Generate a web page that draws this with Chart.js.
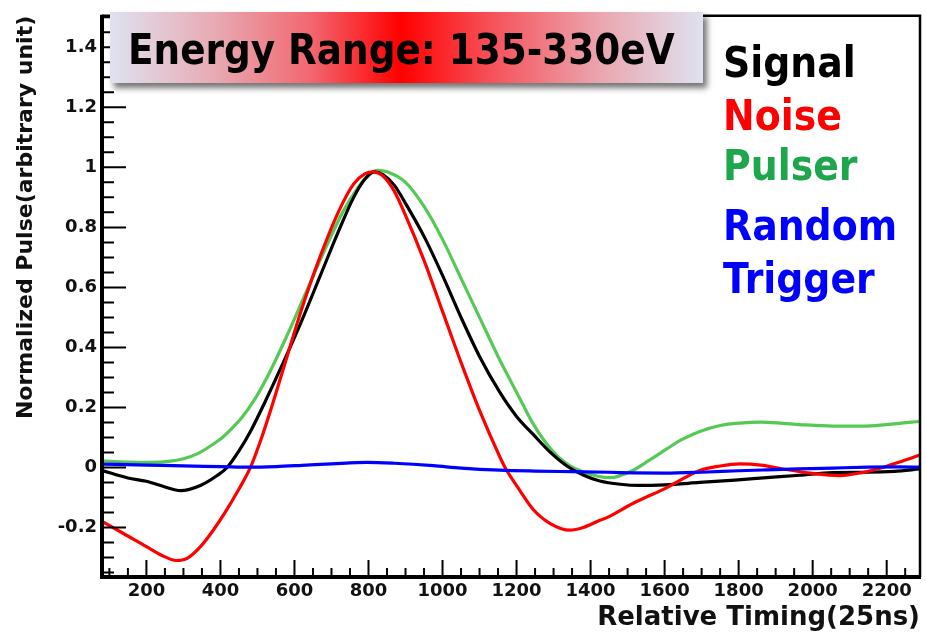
<!DOCTYPE html>
<html>
<head>
<meta charset="utf-8">
<script src="https://cdn.jsdelivr.net/npm/chart.js@4.4.1/dist/chart.umd.min.js"></script>
<style>
html,body{margin:0;padding:0;background:#fff;}
#wrap{width:926px;height:637px;position:relative;}
</style>
</head>
<body>
<div id="wrap"><canvas id="c" width="926" height="637"></canvas></div>
<script>
// ---------- data ----------
const xTickValues = [200,400,600,800,1000,1200,1400,1600,1800,2000,2200];
const yTickValues = [-0.2,0,0.2,0.4,0.6,0.8,1.0,1.2,1.4];

const seriesNames = ["Signal","Noise","Pulser","Random","Trigger"];
const titleText = "Energy Range: 135-330eV";
const xTitle = "Relative Timing(25ns)";
const yTitle = "Normalized Pulse(arbitrary unit)";

const signalTiming = [80,150,200,250,292,346,391,418,450,481,521,570,620,670,720,760,790,815,840,870,900,950,1000,1050,1100,1155,1200,1245,1290,1336,1380,1425,1480,1533,1600,1695,1790,1876,1965,2054,2150,2220,2290];
const signalPulse  = [-0.010,-0.035,-0.046,-0.065,-0.077,-0.060,-0.027,0.000,0.055,0.120,0.220,0.350,0.490,0.640,0.790,0.900,0.960,0.985,0.975,0.940,0.880,0.770,0.640,0.500,0.370,0.250,0.170,0.110,0.052,0.005,-0.025,-0.045,-0.056,-0.060,-0.058,-0.050,-0.042,-0.034,-0.026,-0.017,-0.016,-0.013,-0.005];

const noiseTiming = [80,138,200,250,280,310,346,380,413,450,481,510,543,580,620,670,720,760,790,812,840,870,900,950,1000,1050,1100,1155,1169,1209,1245,1290,1344,1380,1425,1444,1514,1606,1695,1750,1803,1860,1919,2000,2073,2130,2189,2240,2291];
const noisePulse  = [-0.180,-0.220,-0.264,-0.298,-0.310,-0.303,-0.264,-0.210,-0.149,-0.072,0.000,0.095,0.220,0.370,0.530,0.705,0.855,0.945,0.978,0.985,0.970,0.920,0.840,0.690,0.520,0.350,0.190,0.035,0.000,-0.077,-0.140,-0.186,-0.209,-0.200,-0.176,-0.167,-0.120,-0.067,-0.010,0.005,0.012,0.008,-0.005,-0.020,-0.027,-0.018,0.000,0.020,0.042];

const pulserTiming = [80,150,211,260,300,340,381,410,435,460,489,530,580,630,680,730,770,800,825,850,900,950,1000,1050,1100,1150,1185,1215,1245,1290,1336,1380,1452,1514,1560,1606,1650,1695,1750,1803,1860,1920,1965,2054,2146,2220,2291];
const pulserPulse  = [0.022,0.018,0.017,0.020,0.029,0.047,0.078,0.105,0.135,0.170,0.220,0.310,0.440,0.580,0.720,0.850,0.930,0.975,0.990,0.985,0.950,0.870,0.760,0.630,0.500,0.370,0.286,0.215,0.145,0.065,0.012,-0.015,-0.034,-0.010,0.025,0.062,0.095,0.120,0.140,0.148,0.151,0.147,0.143,0.138,0.138,0.145,0.154];

const randomTiming = [80,200,300,400,480,550,620,700,796,870,975,1050,1155,1250,1350,1450,1514,1600,1700,1800,1876,1960,2054,2150,2235,2290];
const randomPulse  = [0.011,0.008,0.005,0.003,0.001,0.003,0.007,0.012,0.017,0.014,0.006,-0.002,-0.009,-0.012,-0.014,-0.016,-0.018,-0.019,-0.016,-0.011,-0.008,-0.005,-0.002,0.001,0.002,0.001];

// ---------- helpers ----------
const pts = (xs, ys) => xs.map((x, i) => ({x: x, y: ys[i]}));
const FONT = "'DejaVu Sans', 'Liberation Sans', sans-serif";

function lineSet(label, xs, ys, color) {
  return {
    label: label, data: pts(xs, ys), borderColor: color, backgroundColor: color,
    borderWidth: 3.2, pointRadius: 0, fill: false, cubicInterpolationMode: 'monotone'
  };
}

function squeezedText(ctx, text, x, y, sx) {
  ctx.save();
  ctx.translate(x, y);
  ctx.scale(sx, 1);
  ctx.fillText(text, 0, 0);
  ctx.restore();
}

// frame + inward ROOT-style ticks, title box, coloured legend words
const framePlugin = {
  id: 'frame',
  afterDatasetsDraw(chart) {
    const {ctx, chartArea: {left, right, top, bottom}, scales: {x, y}} = chart;
    ctx.save();
    ctx.strokeStyle = '#000';
    ctx.lineWidth = 2;
    ctx.beginPath();
    for (let k = 2; k * 50 <= x.max; k++) {
      const v = k * 50;
      const px = x.getPixelForValue(v);
      const len = (v % 200 === 0) ? 17 : 9;
      ctx.moveTo(px, bottom); ctx.lineTo(px, bottom - len);
    }
    for (let k = -7; k <= 30; k++) {
      const v = k * 0.05;
      if (v < y.min || v > y.max + 1e-9) continue;
      const py = y.getPixelForValue(v);
      const len = (k % 4 === 0) ? 24 : 12;
      ctx.moveTo(left, py); ctx.lineTo(left + len, py);
    }
    ctx.stroke();
    ctx.lineWidth = 2.5;
    ctx.beginPath();
    ctx.moveTo(left, top); ctx.lineTo(right, top); ctx.lineTo(right, bottom);
    ctx.stroke();
    ctx.lineWidth = 4;
    ctx.beginPath();
    ctx.moveTo(left, top - 1); ctx.lineTo(left, bottom); ctx.lineTo(right + 1, bottom);
    ctx.stroke();
    ctx.restore();
  },
  afterDraw(chart) {
    const {ctx} = chart;
    const bx = 110, by = 12, bw = 593, bh = 71;
    ctx.save();
    ctx.shadowColor = 'rgba(0,0,0,0.55)';
    ctx.shadowBlur = 6;
    ctx.shadowOffsetX = 4;
    ctx.shadowOffsetY = 5;
    const g = ctx.createLinearGradient(bx, 0, bx + bw, 0);
    g.addColorStop(0.00, '#dfe2f0');
    g.addColorStop(0.18, '#e8a9b2');
    g.addColorStop(0.34, '#f26670');
    g.addColorStop(0.49, '#ff0000');
    g.addColorStop(0.64, '#f65058');
    g.addColorStop(0.82, '#eba3ac');
    g.addColorStop(1.00, '#dfe2f0');
    ctx.fillStyle = g;
    ctx.fillRect(bx, by, bw, bh);
    ctx.restore();

    ctx.save();
    ctx.fillStyle = '#000';
    ctx.textBaseline = 'alphabetic';
    ctx.textAlign = 'left';
    ctx.font = "bold 42px " + FONT;
    squeezedText(ctx, titleText, 128, 64, 0.89);

    const colors = ['#000000', '#ff0000', '#1ea64c', '#0000ff', '#0000ff'];
    const baselines = [77, 130, 180, 240, 293];
    ctx.font = "bold 43px " + FONT;
    seriesNames.forEach((t, i) => {
      ctx.fillStyle = colors[i];
      squeezedText(ctx, t, 723, baselines[i], 0.88);
    });
    ctx.restore();
  }
};

new Chart(document.getElementById('c'), {
  type: 'line',
  data: {
    datasets: [
      lineSet('Random Trigger', randomTiming, randomPulse, '#0000ff'),
      lineSet('Noise', noiseTiming, noisePulse, '#ff0000'),
      lineSet('Signal', signalTiming, signalPulse, '#000000'),
      lineSet('Pulser', pulserTiming, pulserPulse, '#55c955')
    ]
  },
  options: {
    responsive: false,
    animation: false,
    events: [],
    layout: {padding: {top: 12, right: 6, left: 0, bottom: 0}},
    plugins: {legend: {display: false}, tooltip: {enabled: false}},
    scales: {
      x: {
        type: 'linear', min: 80, max: 2290,
        grid: {display: false, drawTicks: false},
        border: {display: false},
        afterBuildTicks: s => { s.ticks = xTickValues.map(v => ({value: v})); },
        afterFit: s => { s.height = 60; },
        ticks: {
          color: '#111', padding: 4, maxRotation: 0, autoSkip: false,
          font: {family: FONT, size: 18, weight: 'bold'},
          callback: v => String(v)
        },
        title: {
          display: true, text: xTitle, align: 'end', color: '#111',
          font: {family: FONT, size: 26, weight: 'bold'},
          padding: {top: 0, bottom: 3}
        }
      },
      y: {
        type: 'linear', min: -0.365, max: 1.505,
        grid: {display: false, drawTicks: false},
        border: {display: false},
        afterBuildTicks: s => { s.ticks = yTickValues.map(v => ({value: v})); },
        afterFit: s => { s.width = 102; },
        ticks: {
          color: '#111', padding: 5, autoSkip: false,
          font: {family: FONT, size: 18, weight: 'bold'},
          callback: v => String(Math.round(v * 10) / 10)
        },
        title: {
          display: true, text: yTitle, align: 'end', color: '#111',
          font: {family: FONT, size: 22, weight: 'bold'},
          padding: {top: 13, bottom: 0}
        }
      }
    }
  },
  plugins: [framePlugin]
});
</script>
</body>
</html>
